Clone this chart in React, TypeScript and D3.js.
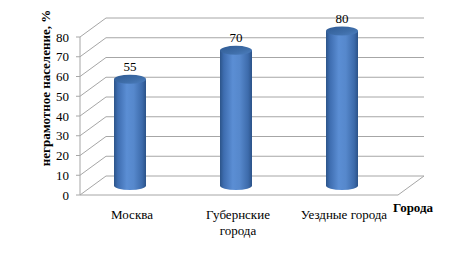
import React from "react";
import * as d3 from "d3";

const categories: string[][] = [["Москва"], ["Губернские", "города"], ["Уездные города"]];
const values: number[] = [55, 70, 80];
const ticks: number[] = [0, 10, 20, 30, 40, 50, 60, 70, 80];
const yTitle = "неграмотное население, %";
const xTitle = "Города";

const W = 452;
const H = 262;
const FONT = "Liberation Serif, Times New Roman, Tinos, DejaVu Serif, serif";

export default function App() {
  const depthX = 26;
  const depthY = -19;
  const frontLeft = 80;
  const frontRight = 398;

  const yFront = d3.scaleLinear().domain([0, 80]).range([195, 37]);
  const yBack = (v: number) => yFront(v) + depthY;
  const yBar = d3.scaleLinear().domain([0, 80]).range([185.5, 31]);

  const x = d3
    .scaleBand<number>()
    .domain(categories.map((_, i) => i))
    .range([77, 395])
    .paddingInner(0)
    .paddingOuter(0);

  const rx = 16;
  const ry = 4.5;
  const grid = "#a6a6a6";
  const txt = { fontFamily: FONT, fontSize: "13px" } as React.CSSProperties;

  return (
    <svg
      width={W}
      height={H}
      style={{ position: "absolute", left: 0, top: 0, background: "#fff" }}
      xmlns="http://www.w3.org/2000/svg"
    >
      <defs>
        <linearGradient id="cyl" x1="0" x2="1" y1="0" y2="0">
          <stop offset="0%" stopColor="#2c5489" />
          <stop offset="12%" stopColor="#3e6db0" />
          <stop offset="40%" stopColor="#5b8ed4" />
          <stop offset="62%" stopColor="#5688cc" />
          <stop offset="88%" stopColor="#3d6bab" />
          <stop offset="100%" stopColor="#2b5288" />
        </linearGradient>
        <linearGradient id="cap" x1="0" x2="1" y1="0" y2="1">
          <stop offset="0%" stopColor="#2f5a93" />
          <stop offset="60%" stopColor="#3f6ea9" />
          <stop offset="100%" stopColor="#4d7fc0" />
        </linearGradient>
      </defs>

      {ticks.map((t) => (
        <line
          key={"b" + t}
          x1={frontLeft + depthX}
          x2={frontRight + depthX}
          y1={yBack(t)}
          y2={yBack(t)}
          stroke={grid}
          strokeWidth={1}
        />
      ))}
      {ticks.map((t) => (
        <line
          key={"s" + t}
          x1={frontLeft}
          x2={frontLeft + depthX}
          y1={yFront(t)}
          y2={yBack(t)}
          stroke={grid}
          strokeWidth={1}
        />
      ))}
      <line x1={frontLeft} x2={frontRight} y1={yFront(0)} y2={yFront(0)} stroke={grid} />
      <line
        x1={frontRight}
        x2={frontRight + depthX}
        y1={yFront(0)}
        y2={yBack(0)}
        stroke={grid}
      />
      <line x1={frontLeft} x2={frontLeft} y1={yFront(80)} y2={yFront(0)} stroke={grid} />
      {ticks.map((t) => (
        <g key={"t" + t}>
          <line x1={frontLeft - 4} x2={frontLeft} y1={yFront(t)} y2={yFront(t)} stroke={grid} />
          <text x={69} y={yFront(t)} dy="0.35em" textAnchor="end" style={txt} fill="#000">
            {t}
          </text>
        </g>
      ))}

      {values.map((v, i) => {
        const cx = (x(i) as number) + x.bandwidth() / 2;
        const yb = yBar(0);
        const yt = yBar(v);
        const body = `M${cx - rx},${yt} L${cx - rx},${yb} A${rx},${ry} 0 0 0 ${cx + rx},${yb} L${cx + rx},${yt} Z`;
        return (
          <g key={"c" + i}>
            <path d={body} fill="url(#cyl)" />
            <ellipse cx={cx} cy={yt} rx={rx} ry={ry} fill="url(#cap)" />
            <text x={cx} y={yt - ry - 4} textAnchor="middle" style={txt} fill="#000">
              {v}
            </text>
          </g>
        );
      })}

      {categories.map((lines, i) => {
        const cx = (x(i) as number) + x.bandwidth() / 2 + 2;
        return (
          <text key={"l" + i} textAnchor="middle" style={txt} fill="#000">
            {lines.map((ln, j) => (
              <tspan key={j} x={cx} y={219 + j * 15.5}>
                {ln}
              </tspan>
            ))}
          </text>
        );
      })}

      <text
        transform={`translate(50,88) rotate(-90)`}
        textAnchor="middle"
        style={{ ...txt, fontWeight: "bold" }}
        fill="#000"
      >
        {yTitle}
      </text>
      <text x={393} y={212} style={{ ...txt, fontWeight: "bold" }} fill="#000">
        {xTitle}
      </text>
    </svg>
  );
}
